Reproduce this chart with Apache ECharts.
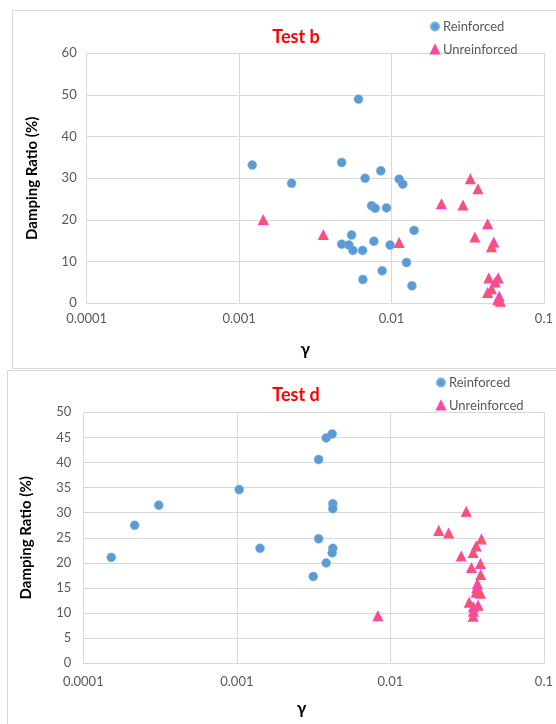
<!DOCTYPE html>
<html>
<head>
<meta charset="utf-8">
<script src="https://cdn.jsdelivr.net/npm/echarts@6/dist/echarts.min.js"></script>
<style>
html,body{margin:0;padding:0;background:#fff;}
#chart{width:556px;height:724px;}
</style>
</head>
<body>
<div id="chart"></div>
<script>
// ---- Test b ----
const bReinfGamma = [0.00122, 0.00221, 0.00607, 0.00471, 0.00851, 0.00671, 0.01122, 0.01186, 0.00740, 0.00781, 0.00927, 0.01406, 0.00547, 0.00471, 0.00525, 0.00558, 0.00646, 0.00766, 0.00979, 0.01254, 0.00868, 0.00649, 0.01361];
const bReinfDamp  = [33.2, 28.8, 49.0, 33.8, 31.8, 30.0, 29.8, 28.6, 23.4, 22.8, 22.9, 17.5, 16.4, 14.2, 14.0, 12.7, 12.7, 14.9, 14.0, 9.8, 7.8, 5.7, 4.2];
const bUnreinGamma = [0.00144, 0.00357, 0.01122, 0.02125, 0.02942, 0.03289, 0.03690, 0.04270, 0.03524, 0.04689, 0.04530, 0.04350, 0.05010, 0.04790, 0.04530, 0.04270, 0.05090, 0.04990, 0.05170];
const bUnreinDamp  = [20.0, 16.4, 14.5, 23.8, 23.5, 29.8, 27.4, 19.0, 15.8, 14.6, 13.5, 6.0, 6.0, 5.0, 3.4, 2.5, 1.6, 0.8, 0.4];

// ---- Test d ----
const dReinfGamma = [0.000152, 0.000216, 0.000310, 0.001036, 0.001416, 0.003408, 0.003818, 0.004178, 0.004217, 0.004217, 0.003408, 0.004217, 0.004178, 0.003818, 0.003145];
const dReinfDamp  = [21.1, 27.5, 31.5, 34.6, 22.9, 40.6, 44.9, 45.7, 31.8, 30.8, 24.8, 22.9, 22.0, 20.0, 17.3];
const dUnreinGamma = [0.00829, 0.03119, 0.02065, 0.02395, 0.03915, 0.03617, 0.03459, 0.02893, 0.03857, 0.03373, 0.03875, 0.03688, 0.03654, 0.03617, 0.03857, 0.03262, 0.03726, 0.03475, 0.03475, 0.03459];
const dUnreinDamp  = [9.4, 30.2, 26.4, 25.9, 24.7, 23.3, 22.0, 21.3, 19.8, 19.0, 17.6, 15.8, 15.0, 14.1, 13.9, 12.1, 11.5, 11.2, 10.3, 9.3];

const xTickLabels = ['0.0001', '0.001', '0.01', '0.1'];
const titles = ['Test b', 'Test d'];
const seriesNames = ['Reinforced', 'Unreinforced'];
const yAxisName = 'Damping Ratio (%)';
const xAxisName = 'γ';

const zip = (xs, ys) => xs.map((x, i) => [x, ys[i]]);

const labelColor = '#595959';
const gridColor = '#d9d9d9';
const font = 'Lato, "Open Sans", sans-serif';

function xAxisCfg(gridIndex, margin, shift, nameGap) {
  return {
    type: 'log', logBase: 10, min: 0.0001, max: 0.1, gridIndex,
    axisLine: { show: true, lineStyle: { color: gridColor } },
    axisTick: { show: false },
    splitLine: { show: true, lineStyle: { color: gridColor } },
    axisLabel: {
      color: labelColor, fontSize: 13, fontFamily: font, margin,
      formatter: v => {
        const e = Math.round(Math.log10(v));
        return xTickLabels[e + 4];
      }
    },
    name: xAxisName, nameLocation: 'middle', nameGap,
    nameTextStyle: { fontSize: 17, fontWeight: 'bold', color: '#000', fontFamily: font, padding: [0, shift, 0, 0] }
  };
}
function yAxisCfg(gridIndex, max, interval, nameGap, margin) {
  return {
    type: 'value', min: 0, max, interval, gridIndex,
    axisLine: { show: true, lineStyle: { color: gridColor } },
    axisTick: { show: false },
    splitLine: { show: true, lineStyle: { color: gridColor } },
    axisLabel: { color: labelColor, fontSize: 13, fontFamily: font, margin },
    name: yAxisName, nameLocation: 'middle', nameRotate: 90, nameGap,
    nameTextStyle: { fontSize: 15, fontWeight: 'bold', color: '#000', fontFamily: font }
  };
}

const circleStyle = { color: '#5b9bd5', borderColor: '#7fb1e0', borderWidth: 0.5, opacity: 1 };
const triStyle = { color: '#f0603c', borderColor: '#ff3fc8', borderWidth: 1.3, opacity: 1 };

const legendCommon = {
  orient: 'vertical', itemWidth: 8, itemHeight: 8, itemGap: 10,
  textStyle: { color: labelColor, fontSize: 13, fontFamily: font, padding: [0, 0, 0, -1] },
  data: [{ name: seriesNames[0], icon: 'circle' }, { name: seriesNames[1], icon: 'triangle' }]
};

const option = {
  backgroundColor: '#fff',
  animation: false,
  graphic: [
    { type: 'rect', shape: { x: 12.5, y: 10.5, width: 560, height: 358 }, style: { fill: '#fff', stroke: gridColor, lineWidth: 1 }, z: -10 },
    { type: 'rect', shape: { x: 7.5, y: 370.5, width: 560, height: 360 }, style: { fill: '#fff', stroke: gridColor, lineWidth: 1 }, z: -9 }
  ],
  title: [
    { text: titles[0], left: 291, top: 23, textAlign: 'center', textStyle: { color: '#ff0000', fontSize: 18, fontWeight: 'bold', fontFamily: font } },
    { text: titles[1], left: 291, top: 381, textAlign: 'center', textStyle: { color: '#ff0000', fontSize: 18, fontWeight: 'bold', fontFamily: font } }
  ],
  legend: [
    Object.assign({ left: 425, top: 15 }, legendCommon),
    Object.assign({ left: 431, top: 371 }, legendCommon)
  ],
  grid: [
    { left: 86.7, right: 11.3, top: 53.3, height: 250 },
    { left: 83.3, right: 8.6, top: 412.3, height: 251 }
  ],
  xAxis: [xAxisCfg(0, 9, 20, 38), xAxisCfg(1, 12, 24, 37)],
  yAxis: [yAxisCfg(0, 60, 10, 47, 10), yAxisCfg(1, 50, 5, 50, 12)],
  series: [
    { name: seriesNames[0], type: 'scatter', xAxisIndex: 0, yAxisIndex: 0, symbol: 'circle', symbolSize: 9, itemStyle: circleStyle, data: zip(bReinfGamma, bReinfDamp) },
    { name: seriesNames[1], type: 'scatter', xAxisIndex: 0, yAxisIndex: 0, symbol: 'triangle', symbolSize: 9, itemStyle: triStyle, data: zip(bUnreinGamma, bUnreinDamp) },
    { name: seriesNames[0], type: 'scatter', xAxisIndex: 1, yAxisIndex: 1, symbol: 'circle', symbolSize: 9, itemStyle: circleStyle, data: zip(dReinfGamma, dReinfDamp) },
    { name: seriesNames[1], type: 'scatter', xAxisIndex: 1, yAxisIndex: 1, symbol: 'triangle', symbolSize: 9, itemStyle: triStyle, data: zip(dUnreinGamma, dUnreinDamp) }
  ]
};

const chart = echarts.init(document.getElementById('chart'), null, { renderer: 'canvas' });
chart.setOption(option);
</script>
</body>
</html>
